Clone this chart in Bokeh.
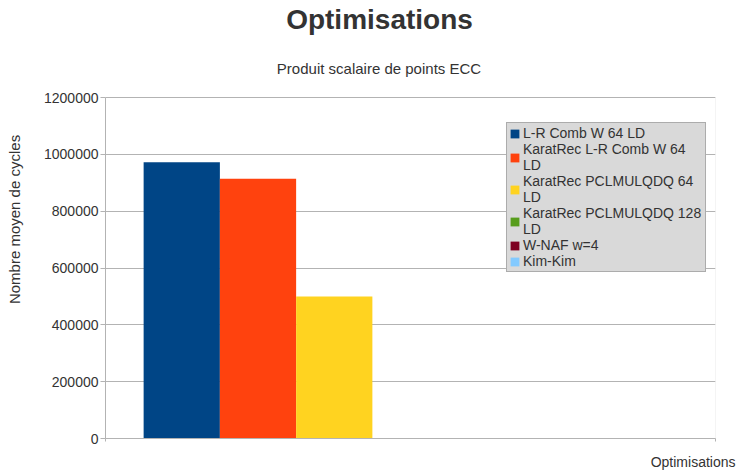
from bokeh.plotting import figure
from bokeh.models import (ColumnDataSource, Legend, LegendItem, Title, Label, BoxAnnotation,
                          FixedTicker, NumeralTickFormatter, Range1d)
from bokeh.embed import file_html
from bokeh.resources import INLINE

# ---- data ----
title_text = "Optimisations"
subtitle_text = "Produit scalaire de points ECC"
x_title = "Optimisations"
y_title = "Nombre moyen de cycles"
series = ["L-R Comb W 64 LD", "KaratRec L-R Comb W 64\nLD", "KaratRec PCLMULQDQ 64\nLD",
          "KaratRec PCLMULQDQ 128\nLD", "W-NAF w=4", "Kim-Kim"]
values = [972000, 914000, 500000, 0, 0, 0]
colors = ["#004586", "#ff420e", "#ffd320", "#579d1c", "#7e0021", "#83caff"]
y_ticks = [0, 200000, 400000, 600000, 800000, 1000000, 1200000]

FONT = "Liberation Sans"
TXT = "#333333"
GRID = "#b3b3b3"

# layout (pixels)
W, H = 745, 471
PLOT_TOP, PLOT_BOTTOM = 97, 438   # pixel rows of the value axis top / bottom
y_max = y_ticks[-1]
frame_h = PLOT_BOTTOM             # frame runs from canvas top to axis
y_top = y_max * frame_h / (PLOT_BOTTOM - PLOT_TOP)   # room above for titles

n = len(series)
slots = n + 2  # category width in bar slots (LibreOffice gap)
p = figure(width=W, height=H, output_backend="svg", toolbar_location=None,
           x_range=Range1d(0, slots), y_range=Range1d(0, y_top),
           min_border_left=105, min_border_right=30, min_border_top=0,
           min_border_bottom=H - PLOT_BOTTOM)
p.outline_line_color = None
p.background_fill_color = "white"
p.border_fill_color = "white"

items = []
for i, (s, v, c) in enumerate(zip(series, values, colors)):
    src = ColumnDataSource(dict(x=[i + 1], top=[v]))
    r = p.vbar(x="x", top="top", bottom=0, width=1.0, source=src,
               fill_color=c, line_color=None)
    items.append(LegendItem(label=s, renderers=[r]))

# plot-area border (left / right vertical lines, top line)
p.add_layout(BoxAnnotation(left=0, right=slots, bottom=0, top=y_max,
                           fill_alpha=0, line_color=GRID, line_width=1, level="underlay"))

# axes
p.yaxis.ticker = FixedTicker(ticks=y_ticks)
p.yaxis.bounds = (0, y_max)
p.yaxis.formatter = NumeralTickFormatter(format="0")
p.yaxis.axis_label = y_title
p.yaxis.axis_label_text_font = FONT
p.yaxis.axis_label_text_font_size = "15px"
p.yaxis.axis_label_text_font_style = "normal"
p.yaxis.axis_label_text_color = TXT
p.yaxis.axis_label_standoff = 18
p.yaxis.major_label_text_font = FONT
p.yaxis.major_label_text_font_size = "14px"
p.yaxis.major_label_text_color = TXT
p.yaxis.major_label_standoff = 2
p.yaxis.major_tick_in = 0
p.yaxis.major_tick_out = 5
p.yaxis.minor_tick_line_color = None
p.yaxis.axis_line_color = GRID
p.yaxis.major_tick_line_color = GRID

p.xaxis.ticker = FixedTicker(ticks=[0, slots])
p.xaxis.major_label_overrides = {0: " ", slots: " "}
p.xaxis.major_label_text_font_size = "1px"
p.xaxis.major_label_standoff = 8
p.xaxis.major_tick_in = 0
p.xaxis.major_tick_out = 3
p.xaxis.axis_line_color = GRID
p.xaxis.major_tick_line_color = GRID
p.xaxis.minor_tick_line_color = None

p.ygrid.grid_line_color = GRID
p.xgrid.visible = False

# legend
legend = Legend(items=items, location=(401, 166), orientation="vertical",
                background_fill_color="#d9d9d9", background_fill_alpha=1.0,
                border_line_color="#7f7f7f", border_line_width=1,
                label_text_font=FONT, label_text_font_size="14px", label_text_color=TXT,
                glyph_width=11, glyph_height=11, label_standoff=3, label_width=180,
                padding=2, spacing=0, margin=0, label_height=16)
p.add_layout(legend, "center")

# titles (inside the frame, above the value area)
p.add_layout(Label(x=274, y=PLOT_BOTTOM - 19, x_units="screen", y_units="screen",
                   text=title_text, text_font=FONT, text_font_size="28px",
                   text_font_style="bold", text_color=TXT,
                   text_align="center", text_baseline="middle"))
p.add_layout(Label(x=273.5, y=PLOT_BOTTOM - 68, x_units="screen", y_units="screen",
                   text=subtitle_text, text_font=FONT, text_font_size="15px",
                   text_color=TXT, text_align="center", text_baseline="middle"))
p.add_layout(Title(text=x_title, text_font=FONT, text_font_size="14px",
                   text_font_style="normal", text_color=TXT, align="right",
                   vertical_align="top", offset=-20, standoff=0), "below")

open("out.html", "w").write(file_html(p, INLINE))
